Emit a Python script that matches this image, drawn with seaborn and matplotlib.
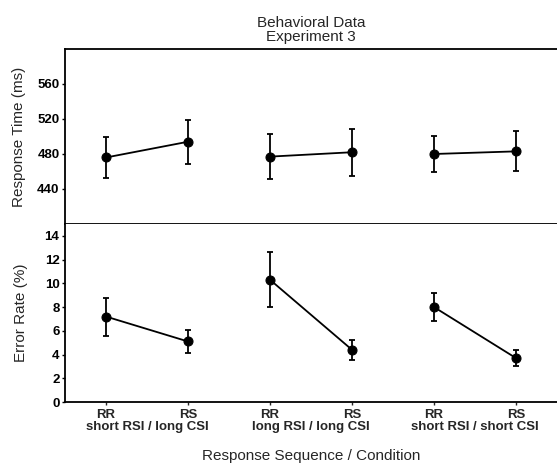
import numpy as np
import pandas as pd
import matplotlib
matplotlib.use('Agg')
import matplotlib.pyplot as plt
import seaborn as sns

# --- values ---
sequence  = ['RR', 'RS', 'RR', 'RS', 'RR', 'RS']
condition = ['short RSI / long CSI', 'long RSI / long CSI', 'short RSI / short CSI']
rt_mean   = [476, 494, 477, 482, 480, 483]
rt_se     = [23, 25, 26, 27, 21, 23]
er_mean   = [7.2, 5.1, 10.3, 4.4, 8.0, 3.7]
er_se     = [1.6, 1.0, 2.3, 0.85, 1.15, 0.7]
rt_ticks  = [440, 480, 520, 560]
er_ticks  = [0, 2, 4, 6, 8, 10, 12, 14]

df = pd.DataFrame({
    'pos': np.arange(len(sequence)),
    'seq': sequence,
    'group': np.repeat(condition, 2),
    'rt': rt_mean, 'rt_se': rt_se,
    'er': er_mean, 'er_se': er_se,
})
mids = df.groupby('group', sort=False)['pos'].mean().values

sns.set_style('ticks')
plt.rcParams['font.family'] = ['Liberation Sans', 'DejaVu Sans']

fig = plt.figure(figsize=(5.57, 4.68), dpi=100)
ax1 = fig.add_axes([0.1167, 0.5214, 0.8833, 0.3739])
ax2 = fig.add_axes([0.1167, 0.141, 0.8833, 0.3804])

black = ['black'] * len(condition)
for ax, col, se in [(ax1, 'rt', 'rt_se'), (ax2, 'er', 'er_se')]:
    sns.lineplot(data=df, x='pos', y=col, hue='group', palette=black,
                 marker='o', markersize=6.5, markeredgecolor='black',
                 linewidth=1.3, errorbar=None, legend=False, ax=ax)
    ax.errorbar(df['pos'], df[col], yerr=df[se], fmt='none', ecolor='black',
                elinewidth=1.3, capsize=2.5, capthick=1.3)
    ax.set_xlim(-0.5, 5.5)
    ax.spines['right'].set_visible(False)
    for s in ['left', 'bottom', 'top']:
        ax.spines[s].set_linewidth(1.3)
        ax.spines[s].set_color('black')
    ax.tick_params(axis='y', direction='out', length=2.5, width=1, pad=1.5,
                   labelsize=9.5, colors='black')

# top panel: response time
ax1.set_ylim(400, 600)
ax1.set_yticks(rt_ticks)
ax1.set_yticklabels([str(t) for t in rt_ticks], fontweight='bold')
ax1.set_xticks([])
ax1.set_xlabel('')
ax1.set_ylabel('Response Time (ms)', fontsize=11, labelpad=8)
ax1.set_title('Behavioral Data\nExperiment 3', fontsize=11, pad=6, linespacing=1.0)

# bottom panel: error rate
ax2.spines['top'].set_visible(False)
ax2.set_ylim(0, 15)
ax2.set_yticks(er_ticks)
ax2.set_yticklabels([str(t) for t in er_ticks], fontweight='bold')
ax2.set_xticks(df['pos'])
ax2.set_xticklabels(sequence, fontweight='bold', fontsize=9.5)
ax2.set_xticks(mids, minor=True)
ax2.set_xticklabels(condition, minor=True, fontweight='bold', fontsize=9.5)
ax2.tick_params(axis='x', which='major', direction='out', length=2.5, width=1, pad=2.5)
ax2.tick_params(axis='x', which='minor', length=0, pad=13.5)
ax2.set_ylabel('Error Rate (%)', fontsize=11, labelpad=12)
ax2.set_xlabel('Response Sequence / Condition', fontsize=11, labelpad=12)

fig.savefig('out.png', dpi=100)
